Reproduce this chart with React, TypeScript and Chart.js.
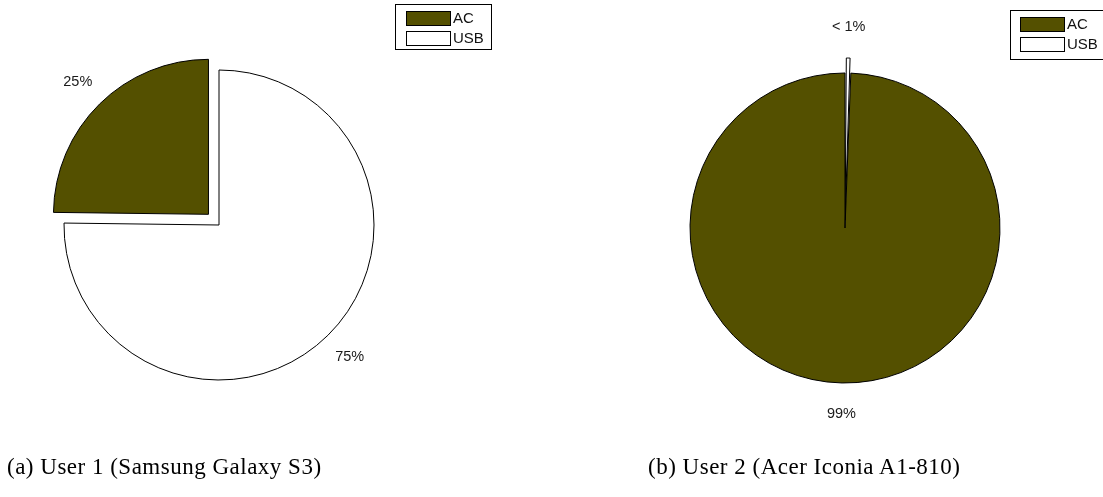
import React, { useEffect, useRef } from "react";
import { Chart, registerables } from "chart.js";

Chart.register(...registerables);

// ---- data ----
const categories = ["AC", "USB"];
const user1Share = [24.8, 75.2]; // percent, AC / USB
const user2Share = [99.4, 0.6];
const user1Explode = [1, 0]; // exploded slice flags
const user2Explode = [0, 1];
const captions = ["(a) User 1 (Samsung Galaxy S3)", "(b) User 2 (Acer Iconia A1-810)"];
const sliceColors = ["#545000", "#ffffff"];

const EXPLODE_PX = 15;
const fmt = (v: number) => (v < 1 ? "< 1%" : Math.round(v) + "%");

// chart.js translates an arc by offset/4 and also grows its radius by
// offset/4 * (1 - sin(circumference)); compensate so the outer edge moves EXPLODE_PX
function offsetFor(values: number[], flags: number[]) {
  const total = values.reduce((a, b) => a + b, 0);
  return values.map((v, i) => {
    if (!flags[i]) return 0;
    const circ = (v / total) * Math.PI * 2;
    const fix = 1 - Math.sin(Math.min(Math.PI, circ));
    return (4 * EXPLODE_PX) / (1 + fix);
  });
}

const pieLabelsPlugin = {
  id: "pieLabels",
  afterDatasetsDraw(chart: any) {
    const ctx = chart.ctx;
    const meta = chart.getDatasetMeta(0);
    const ds = chart.data.datasets[0];
    ctx.save();
    ctx.font = '14.5px "Liberation Sans", Arial, sans-serif';
    ctx.fillStyle = "#1a1a1a";
    ctx.textAlign = "center";
    ctx.textBaseline = "middle";
    meta.data.forEach((arc: any, i: number) => {
      const { x, y, startAngle, endAngle, outerRadius } = arc.getProps(
        ["x", "y", "startAngle", "endAngle", "outerRadius"],
        true
      );
      const off = ds.explodeFlags[i] ? EXPLODE_PX : 0;
      const mid = (startAngle + endAngle) / 2;
      const r = off + 1.2 * outerRadius;
      ctx.fillText(fmt(ds.data[i]), x + r * Math.cos(mid), y + r * Math.sin(mid));
    });
    ctx.restore();
  },
};

const frameLegendPlugin = {
  id: "frameLegend",
  afterDraw(chart: any, _args: any, opts: any) {
    const ctx = chart.ctx;
    const labels: string[] = chart.data.labels.slice().reverse();
    const colors: string[] = chart.data.datasets[0].backgroundColor.slice().reverse();
    ctx.save();
    ctx.lineWidth = 1;
    ctx.strokeStyle = "#000";
    ctx.fillStyle = "#fff";
    ctx.fillRect(opts.x, opts.y, opts.w, opts.h);
    ctx.strokeRect(opts.x + 0.5, opts.y + 0.5, opts.w, opts.h);
    ctx.font = '15px "Liberation Sans", Arial, sans-serif';
    ctx.textBaseline = "middle";
    ctx.textAlign = "left";
    labels.forEach((lab, i) => {
      const sy = opts.y + opts.pad + i * opts.rowH;
      ctx.fillStyle = colors[i];
      ctx.fillRect(opts.x + opts.swX, sy, opts.swW, opts.swH);
      ctx.strokeStyle = "#000";
      ctx.strokeRect(opts.x + opts.swX + 0.5, sy + 0.5, opts.swW, opts.swH);
      ctx.fillStyle = "#111";
      ctx.fillText(lab, opts.x + opts.swX + opts.swW + 3, sy + opts.swH / 2 + 1);
    });
    ctx.restore();
  },
};

type PieProps = {
  values: number[];
  explode: number[];
  left: number;
  width: number;
  padding: { left: number; right: number; top: number; bottom: number };
  legend: any;
};

function Pie({ values, explode, left, width, padding, legend }: PieProps) {
  const ref = useRef<HTMLCanvasElement | null>(null);
  useEffect(() => {
    if (!ref.current) return;
    // draw order reversed so slices run counter-clockwise from 12 o'clock
    const vals = values.slice().reverse();
    const flags = explode.slice().reverse();
    const chart = new Chart(ref.current, {
      type: "pie",
      data: {
        labels: categories.slice().reverse(),
        datasets: [
          {
            data: vals,
            backgroundColor: sliceColors.slice().reverse(),
            borderColor: "#000",
            borderWidth: 1,
            offset: offsetFor(vals, flags),
            explodeFlags: flags,
          } as any,
        ],
      },
      options: {
        responsive: false,
        animation: false,
        events: [],
        radius: 155,
        layout: { padding },
        plugins: {
          legend: { display: false },
          tooltip: { enabled: false },
          frameLegend: legend,
        } as any,
      } as any,
      plugins: [pieLabelsPlugin, frameLegendPlugin],
    });
    return () => chart.destroy();
  }, []);
  return (
    <canvas
      ref={ref}
      width={width}
      height={455}
      style={{ position: "absolute", left, top: 0, width, height: 455 }}
    />
  );
}

export default function App() {
  useEffect(() => {
    document.body.style.margin = "0";
  }, []);
  const capStyle: React.CSSProperties = {
    position: "absolute",
    top: 454,
    fontFamily: '"Liberation Serif", "Times New Roman", serif',
    fontSize: 23,
    letterSpacing: 0.5,
    color: "#000",
    whiteSpace: "nowrap",
  };
  return (
    <div style={{ position: "absolute", left: 0, top: 0, width: 1103, height: 497, background: "#fff", overflow: "hidden" }}>
      <Pie
        values={user1Share}
        explode={user1Explode}
        left={0}
        width={550}
        padding={{ left: 0, right: 112, top: 0, bottom: 5 }}
        legend={{ x: 395, y: 4, w: 96, h: 45, pad: 7, rowH: 20, swX: 11, swW: 44, swH: 14 }}
      />
      <Pie
        values={user2Share}
        explode={user2Explode}
        left={551}
        width={552}
        padding={{ left: 36, right: 0, top: 6, bottom: 5 }}
        legend={{ x: 459, y: 10, w: 100, h: 49, pad: 7, rowH: 20, swX: 10, swW: 44, swH: 14 }}
      />
      <div style={{ ...capStyle, left: 7 }}>{captions[0]}</div>
      <div style={{ ...capStyle, left: 648 }}>{captions[1]}</div>
    </div>
  );
}
